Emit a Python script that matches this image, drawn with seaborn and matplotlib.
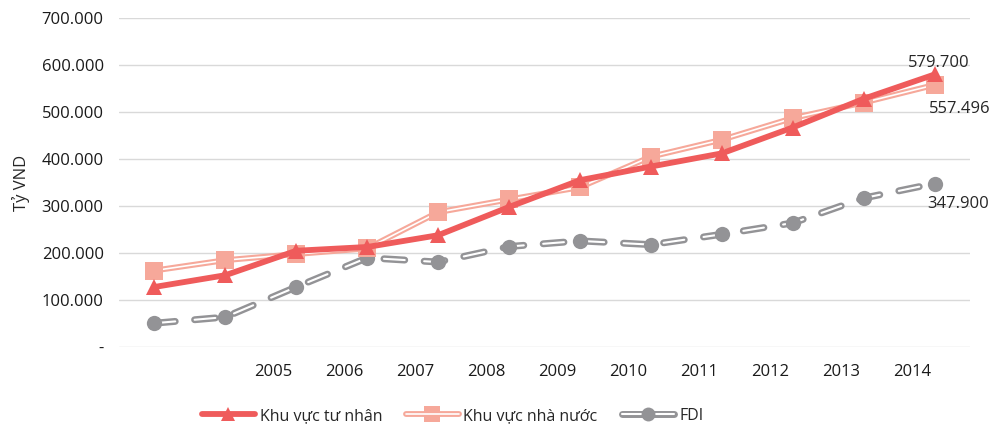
import numpy as np
import pandas as pd
import seaborn as sns
import matplotlib.pyplot as plt
from matplotlib.lines import Line2D
from matplotlib.ticker import FuncFormatter

sns.set_style("white")
plt.rcParams['font.family'] = ['Open Sans', 'DejaVu Sans']
plt.rcParams['lines.scale_dashes'] = False

# du lieu doc tu bieu do (ty VND)
years = ["2003", "2004", "2005", "2006", "2007", "2008", "2009", "2010", "2011", "2012", "2013", "2014"]
tick_labels = ["2005", "2006", "2007", "2008", "2009", "2010", "2011", "2012", "2013", "2014"]
tu_nhan = [128000, 153000, 205000, 213000, 238000, 298000, 355000, 384000, 412000, 467000, 528000, 579700]
nha_nuoc = [163000, 185000, 198000, 210000, 287000, 314000, 340000, 405000, 441000, 487000, 520000, 557496]
fdi = [51000, 64000, 128000, 190000, 181000, 214000, 226000, 218000, 240000, 264000, 317000, 347900]

c_red = "#ef5b5b"
c_pink = "#f6a89a"
c_grey = "#939396"
dash = (0, (15, 14))

df = pd.DataFrame({"x": np.arange(len(years)), "tu_nhan": tu_nhan, "nha_nuoc": nha_nuoc, "fdi": fdi})

fig, ax = plt.subplots(figsize=(10, 4.26), dpi=100)
fig.subplots_adjust(left=0.119, right=0.97, top=0.958, bottom=0.185)

# FDI: net dut, vien xam ruot trang
sns.lineplot(data=df, x="x", y="fdi", ax=ax, color=c_grey, lw=5, zorder=2)
ax.lines[-1].set_linestyle(dash)
ax.lines[-1].set_dash_capstyle("round")
sns.lineplot(data=df, x="x", y="fdi", ax=ax, color="white", lw=1.5, zorder=3)
ax.lines[-1].set_linestyle(dash)
ax.lines[-1].set_dash_capstyle("round")
sns.lineplot(data=df, x="x", y="fdi", ax=ax, color=c_grey, lw=0, marker="o",
             markersize=11, markeredgewidth=0, zorder=4)

# khu vuc nha nuoc: duong doi
sns.lineplot(data=df, x="x", y="nha_nuoc", ax=ax, color=c_pink, lw=4.2, zorder=5)
sns.lineplot(data=df, x="x", y="nha_nuoc", ax=ax, color="white", lw=1.2, zorder=6)
sns.lineplot(data=df, x="x", y="nha_nuoc", ax=ax, color=c_pink, lw=0, marker="s",
             markersize=13, markeredgewidth=0, zorder=7)

# khu vuc tu nhan
sns.lineplot(data=df, x="x", y="tu_nhan", ax=ax, color=c_red, lw=4.2, marker="^",
             markersize=11, markeredgewidth=0, zorder=8)

# nhan gia tri cuoi
last = len(years) - 1
ax.annotate("579.700", (last, tu_nhan[-1]), xytext=(3, 8), textcoords="offset points",
            ha="center", va="center", fontsize=12)
ax.annotate("557.496", (last, nha_nuoc[-1]), xytext=(18, -17), textcoords="offset points",
            ha="center", va="center", fontsize=12)
ax.annotate("347.900", (last, fdi[-1]), xytext=(17, -15), textcoords="offset points",
            ha="center", va="center", fontsize=12)

ax.set_xlim(-0.5, len(years) - 0.5)
ax.set_ylim(0, 700000)
ax.set_yticks(np.arange(0, 700001, 100000))
ax.yaxis.set_major_formatter(FuncFormatter(lambda v, p: "-" if v == 0 else f"{v:,.0f}".replace(",", ".")))
ax.set_xticks(np.arange(2, len(years)) - 0.32)
ax.set_xticklabels(tick_labels)
ax.tick_params(axis="both", length=0, labelsize=12, colors="#1a1a1a")
ax.tick_params(axis="x", pad=12)
ax.tick_params(axis="y", pad=11)
ax.grid(axis="y", color="#d9d9d9", lw=1)
ax.set_axisbelow(True)
for s in ax.spines.values():
    s.set_visible(False)
ax.set_xlabel("")
ax.set_ylabel("Tỷ VND", fontsize=12, labelpad=8)

handles = [
    Line2D([], [], color=c_red, lw=4.2, marker="^", markersize=10, markeredgewidth=0),
    (Line2D([], [], color=c_pink, lw=4.2, marker="s", markersize=12, markeredgewidth=0),
     Line2D([], [], color="white", lw=1.2)),
    (Line2D([], [], color=c_grey, lw=5, solid_capstyle="round"),
     Line2D([], [], color="white", lw=1.5),
     Line2D([], [], color=c_grey, lw=0, marker="o", markersize=10, markeredgewidth=0)),
]
ax.legend(handles, ["Khu vực tư nhân", "Khu vực nhà nước", "FDI"], loc="upper center",
          bbox_to_anchor=(0.392, -0.14), ncol=3, frameon=False, fontsize=11.5,
          handlelength=3.3, handletextpad=0.3, columnspacing=1.5)

plt.savefig("out.png", dpi=100)
